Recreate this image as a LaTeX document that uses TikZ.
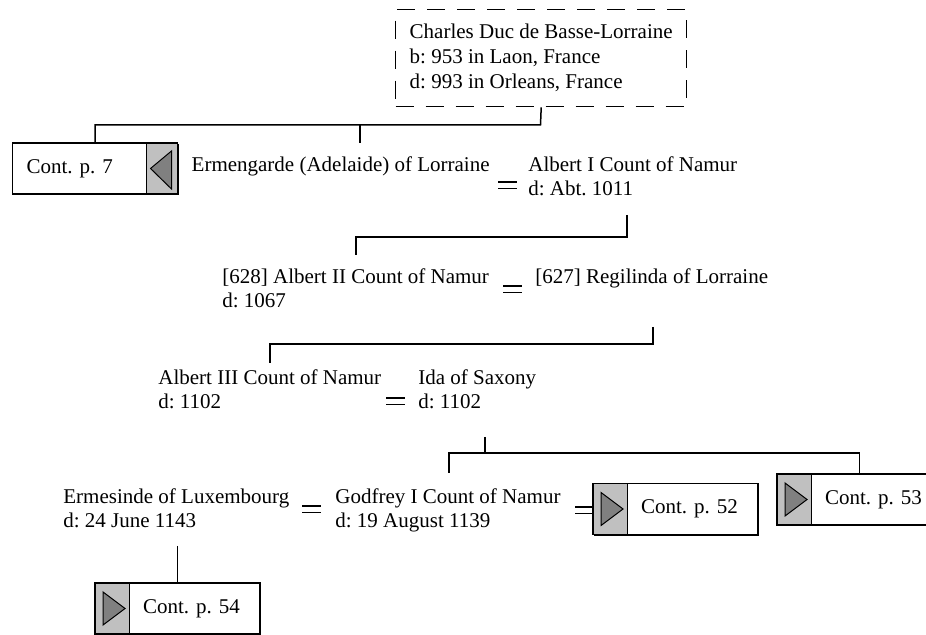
\documentclass[tikz,border=0pt]{standalone}
\usepackage{fontspec}
\setmainfont{Liberation Serif}
\usetikzlibrary{shadows}
\frenchspacing

\definecolor{stripgray}{RGB}{192,192,192}
\definecolor{arrowgray}{RGB}{128,128,128}

\tikzset{
  person/.style={anchor=base west, inner sep=0pt, align=left, font=\fontsize{10.5}{12}\selectfont},
  line/.style={line width=0.75pt},
  wedlock/.style={line width=0.85pt},
  ancestor/.style={draw, line width=0.7pt, dash pattern=on 9pt off 6pt, anchor=north west,
    minimum width=145.5pt, minimum height=48.5pt, inner xsep=6pt,
    align=left, font=\fontsize{10.5}{12.5}\selectfont},
  contbox/.style={draw, line width=0.75pt, fill=white, minimum width=82.5pt, minimum height=25.5pt,
    text width=68.5pt, inner xsep=7pt, inner ysep=0pt, align=left, font=\fontsize{10.5}{12}\selectfont,
    drop shadow={shadow xshift=0.7pt, shadow yshift=-0.7pt, fill=black, opacity=1}},
  stripleft/.style={contbox, execute at begin node=\hspace*{17pt},
    path picture={
      \filldraw[fill=stripgray, line width=0.5pt] (path picture bounding box.north west)
        rectangle ([xshift=17pt]path picture bounding box.south west);
      \filldraw[fill=arrowgray, line width=0.5pt] ([xshift=4pt,yshift=-4.5pt]path picture bounding box.north west)
        -- ([xshift=15pt]path picture bounding box.west)
        -- ([xshift=4pt,yshift=4.5pt]path picture bounding box.south west) -- cycle;
    }},
  stripright/.style={contbox,
    path picture={
      \filldraw[fill=stripgray, line width=0.5pt] ([xshift=-15.5pt]path picture bounding box.north east)
        rectangle (path picture bounding box.south east);
      \filldraw[fill=arrowgray, line width=0.5pt] ([xshift=-3pt,yshift=-4pt]path picture bounding box.north east)
        -- ([xshift=-13.5pt]path picture bounding box.east)
        -- ([xshift=-3pt,yshift=2.5pt]path picture bounding box.south east) -- cycle;
    }},
}

\begin{document}
\begin{tikzpicture}[x=0.5pt, y=-0.5pt]
\useasboundingbox (0,0) rectangle (926,635);

\node[ancestor] (charles) at (395,9) {Charles Duc de Basse-Lorraine\\b: 953 in Laon, France\\d: 993 in Orleans, France};

\node[person, anchor=base east] (ermengarde) at (490,172) {Ermengarde (Adelaide) of Lorraine};
\node[person] (albert1) at (528,196) {Albert I Count of Namur\\d: Abt. 1011};

\node[person] (albert2) at (222,308) {[628] Albert II Count of Namur\\d: 1067};
\node[person] (regilinda) at (535,284) {[627] Regilinda of Lorraine};

\node[person] (albert3) at (158,409) {Albert III Count of Namur\\d: 1102};
\node[person] (ida) at (418,409) {Ida of Saxony\\d: 1102};

\node[person] (ermesinde) at (63,528) {Ermesinde of Luxembourg\\d: 24 June 1143};
\node[person] (godfrey) at (335,528) {Godfrey I Count of Namur\\d: 19 August 1139};

\node[stripright] (cont7) at (95,168.5) {Cont. p. 7};
\node[stripleft] (cont52) at (675.5,509) {Cont. p. 52};
\node[stripleft] (cont53) at (859.5,499.5) {Cont. p. 53};
\node[stripleft] (cont54) at (177.5,608.5) {Cont. p. 54};

\foreach \x/\y in {498/182, 503/286, 386/398, 302/506, 575/507}
  \draw[wedlock] (\x,\y) -- ++(19,0) (\x,\y+6.5) -- ++(19,0);

\coordinate (kids0) at (540.5,125);
\coordinate (ermhead) at (360,143);
\coordinate (alb1foot) at (627,215);
\coordinate (alb2head) at (356,255);
\coordinate (regfoot) at (653,327);
\coordinate (alb3head) at (270,363);
\coordinate (idafoot) at (485,437);
\coordinate (kids3) at (485,453);
\coordinate (godhead) at (449,473);
\coordinate (ermfoot) at (177.5,546);

\draw[line] (charles.south) -- (kids0) -| (cont7.north);
\draw[line] (kids0 -| ermhead) -- (ermhead);
\draw[line] (alb1foot) -- ++(0,22) -| (alb2head);
\draw[line] (regfoot) -- ++(0,17) -| (alb3head);
\draw[line] (idafoot) -- (kids3) -| (godhead);
\draw[line] (kids3) -| (cont53.north);
\draw[line] (ermfoot) -- (cont54.north);

\end{tikzpicture}
\end{document}
